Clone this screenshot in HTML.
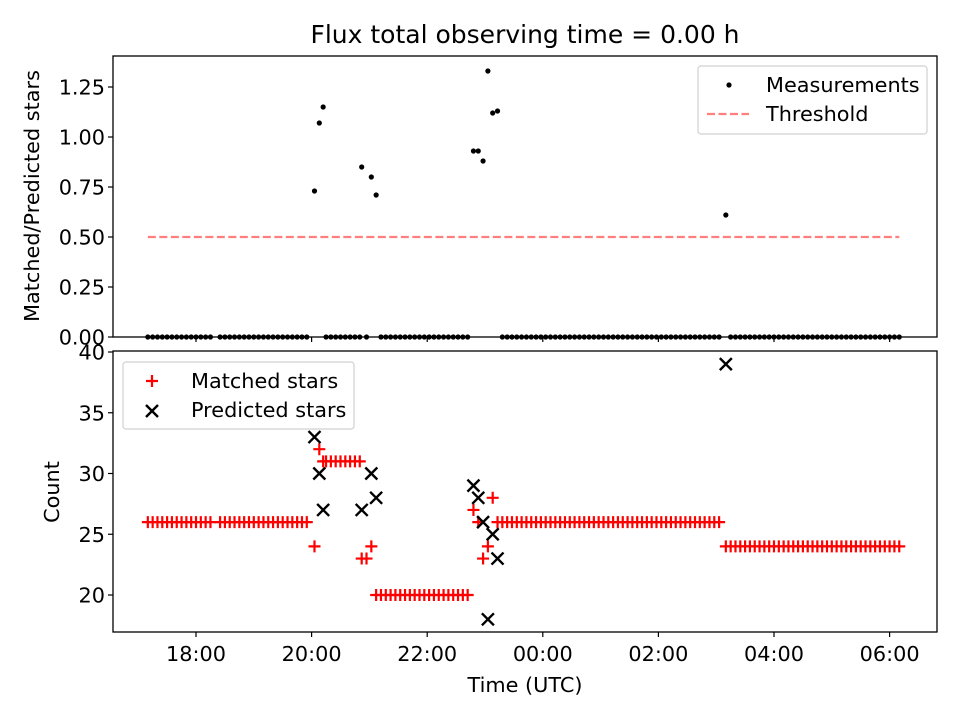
<!DOCTYPE html>
<html><head><meta charset="utf-8">
<style>
html,body{margin:0;padding:0;background:#fff;}
svg{display:block;font-family:"DejaVu Sans","Liberation Sans",sans-serif;}
</style></head>
<body>
<svg id="chart" width="960" height="720" viewBox="0 0 960 720" xmlns="http://www.w3.org/2000/svg">
<rect width="960" height="720" fill="#fff"/>
<text x="525" y="43" font-size="25" text-anchor="middle" fill="#000">Flux total observing time = 0.00 h</text>
<g id="topPanel"></g>
<g id="botPanel"></g>
<text transform="translate(39,196) rotate(-90)" font-size="20.8" text-anchor="middle">Matched/Predicted stars</text>
<text transform="translate(59,492) rotate(-90)" font-size="20.8" text-anchor="middle">Count</text>
<text x="525" y="692" font-size="20.8" text-anchor="middle">Time (UTC)</text>
</svg>
<script>
// minutes since 17:00 UTC, 5-min cadence runs: [start, end, matched]
const runStarts = [10, 85, 195, 252, 378, 615];
const runEnds = [75, 175, 230, 342, 605, 790];
const runMatched = [26, 26, 31, 20, 26, 24];
// individual points with predictions
const ptTimes = [183, 188, 192, 232, 237, 242, 247, 348, 353, 358, 363, 368, 373, 610];
const ptMatched = [24, 32, 31, 23, 23, 24, 20, 27, 26, 23, 24, 28, 26, 24];
const ptPredicted = [33, 30, 27, 27, null, 30, 28, 29, 28, 26, 18, 25, 23, 39];
const ptRatio = [0.73, 1.07, 1.15, 0.85, 0, 0.80, 0.71, 0.93, 0.93, 0.88, 1.33, 1.12, 1.13, 0.61];
const threshold = 0.5;
const threshStart = 10, threshEnd = 790;
const xTickMinutes = [60, 180, 300, 420, 540, 660, 780];
const xTickLabels = ["18:00", "20:00", "22:00", "00:00", "02:00", "04:00", "06:00"];
const topTicks = [0, 0.25, 0.5, 0.75, 1.0, 1.25];
const topTickLabels = ["0.00", "0.25", "0.50", "0.75", "1.00", "1.25"];
const botTicks = [20, 25, 30, 35, 40];

const NS = "http://www.w3.org/2000/svg";
const L = 113, R = 937, TT = 56, TB = 337, BT = 351, BB = 632;
const xs = m => 196 + (m - 60) * 57.8 / 60;
const yTop = v => 337 - v * 200;
const yBot = v => 595 - (v - 20) * 12.15;

function mk(parent, tag, attrs) {
  const e = document.createElementNS(NS, tag);
  for (const k in attrs) e.setAttribute(k, attrs[k]);
  parent.appendChild(e);
  return e;
}
const topG = document.getElementById('topPanel'), botG = document.getElementById('botPanel');

const times = [], matched = [], predicted = [], ratio = [];
for (let i = 0; i < runStarts.length; i++) {
  for (let t = runStarts[i]; t <= runEnds[i]; t += 5) {
    times.push(t); matched.push(runMatched[i]); predicted.push(null); ratio.push(0);
  }
}
for (let i = 0; i < ptTimes.length; i++) {
  times.push(ptTimes[i]); matched.push(ptMatched[i]); predicted.push(ptPredicted[i]); ratio.push(ptRatio[i]);
}

const th = mk(topG, 'line', {x1: xs(threshStart), x2: xs(threshEnd), y1: yTop(threshold), y2: yTop(threshold), stroke: '#ff7f7f', 'stroke-width': 2.2, 'stroke-dasharray': '8,3.5'});



for (let i = 0; i < times.length; i++) {
  const c = mk(topG, 'circle', {cx: xs(times[i]), cy: yTop(ratio[i]), r: 2.6, fill: '#000'});
  
  
}

for (let i = 0; i < times.length; i++) {
  const x = xs(times[i]), y = yBot(matched[i]);
  const p = mk(botG, 'path', {d: `M${x-6},${y}H${x+6}M${x},${y-6}V${y+6}`, stroke: '#ff0000', 'stroke-width': 2.2, fill: 'none'});
  
  
}
for (let i = 0; i < times.length; i++) {
  if (predicted[i] === null) continue;
  const x = xs(times[i]), y = yBot(predicted[i]);
  const p = mk(botG, 'path', {d: `M${x-6},${y-6}L${x+6},${y+6}M${x-6},${y+6}L${x+6},${y-6}`, stroke: '#000', 'stroke-width': 2.4, fill: 'none'});
  
  
}

const f1 = mk(topG, 'rect', {x: L, y: TT, width: R - L, height: TB - TT, fill: 'none', stroke: '#000', 'stroke-width': 1.3});


const f2 = mk(botG, 'rect', {x: L, y: BT, width: R - L, height: BB - BT, fill: 'none', stroke: '#000', 'stroke-width': 1.3});



for (let i = 0; i < xTickMinutes.length; i++) {
  const x = xs(xTickMinutes[i]);
  const a = mk(topG, 'line', {x1: x, x2: x, y1: TB, y2: TB + 5, stroke: '#000', 'stroke-width': 1.2});
  
  
  const b = mk(botG, 'line', {x1: x, x2: x, y1: BB, y2: BB + 5, stroke: '#000', 'stroke-width': 1.2});
  
  
  const t = mk(botG, 'text', {x: x, y: BB + 29, 'font-size': 20.8, 'text-anchor': 'middle'});
  t.textContent = xTickLabels[i];
  
  
}
for (let i = 0; i < topTicks.length; i++) {
  const y = yTop(topTicks[i]);
  const a = mk(topG, 'line', {x1: L - 5, x2: L, y1: y, y2: y, stroke: '#000', 'stroke-width': 1.2});
  
  
  const t = mk(topG, 'text', {x: L - 8, y: y + 7.5, 'font-size': 20.8, 'text-anchor': 'end'});
  t.textContent = topTickLabels[i];
  
  
}
for (let i = 0; i < botTicks.length; i++) {
  const y = yBot(botTicks[i]);
  const a = mk(botG, 'line', {x1: L - 5, x2: L, y1: y, y2: y, stroke: '#000', 'stroke-width': 1.2});
  
  
  const t = mk(botG, 'text', {x: L - 8, y: y + 7.5, 'font-size': 20.8, 'text-anchor': 'end'});
  t.textContent = String(botTicks[i]);
  
  
}

const lg1 = mk(topG, 'g', {});


mk(lg1, 'rect', {x: 698, y: 66, width: 229, height: 68, rx: 3, fill: '#fff', 'fill-opacity': 0.8, stroke: '#d0d0d0', 'stroke-width': 1.2});
mk(lg1, 'circle', {cx: 729, cy: 85, r: 2.6, fill: '#000'});
mk(lg1, 'line', {x1: 707, x2: 749, y1: 114, y2: 114, stroke: '#ff7f7f', 'stroke-width': 2.2, 'stroke-dasharray': '8,3.5'});
const lt1 = mk(lg1, 'text', {x: 766, y: 92, 'font-size': 20.8}); lt1.textContent = 'Measurements';


const lt2 = mk(lg1, 'text', {x: 766, y: 121, 'font-size': 20.8}); lt2.textContent = 'Threshold';



const lg2 = mk(botG, 'g', {});


mk(lg2, 'rect', {x: 123, y: 362, width: 231, height: 67, rx: 3, fill: '#fff', 'fill-opacity': 0.8, stroke: '#d0d0d0', 'stroke-width': 1.2});
mk(lg2, 'path', {d: 'M146,381H158M152,375V387', stroke: '#ff0000', 'stroke-width': 2.2});
mk(lg2, 'path', {d: 'M146,405L158,417M146,417L158,405', stroke: '#000', 'stroke-width': 2.4});
const lt3 = mk(lg2, 'text', {x: 191, y: 388, 'font-size': 20.8}); lt3.textContent = 'Matched stars';


const lt4 = mk(lg2, 'text', {x: 191, y: 417, 'font-size': 20.8}); lt4.textContent = 'Predicted stars';


</script>
</body></html>
